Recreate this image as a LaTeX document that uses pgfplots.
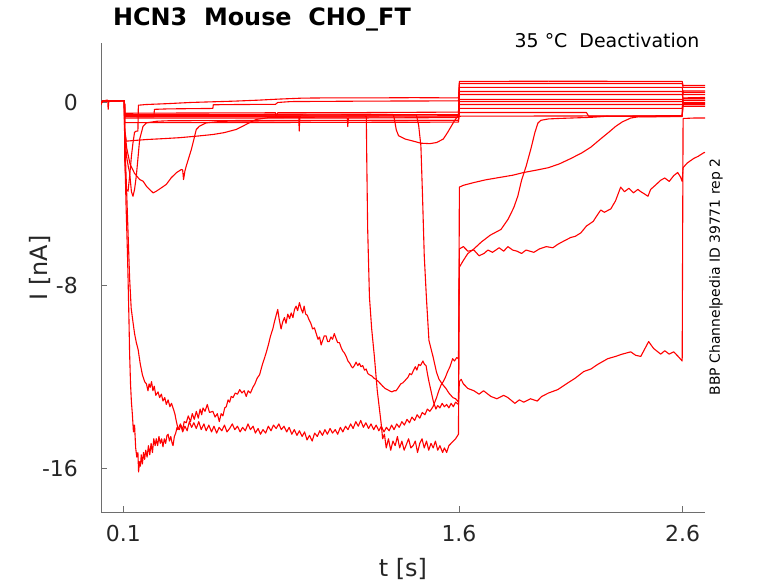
\documentclass[border=0pt]{standalone}
\usepackage{fontspec}
\setmainfont{DejaVu Sans}
\usepackage{pgfplots}
\pgfplotsset{compat=1.18}
\definecolor{axgray}{RGB}{38,38,38}
\definecolor{spine}{RGB}{110,110,110}
\pgfplotsset{tr/.style={color=red, solid, mark=none, line width=1.1bp, line join=round}}
\begin{document}
\begin{tikzpicture}
\path[use as bounding box] (0bp,0bp) rectangle (778bp,583bp);
\begin{axis}[
  at={(101bp,71bp)}, anchor=south west,
  scale only axis, width=604bp, height=469bp,
  xmin=0, xmax=2.7, ymin=-17.9, ymax=2.6,
  axis x line*=bottom, axis y line*=left,
  axis line style={spine, line width=0.8bp},
  xtick={0.1,1.6,2.6}, xticklabels={0.1,1.6,2.6},
  ytick={-16,-8,0}, yticklabels={-16,-8,0},
  tick align=inside, major tick length=6bp,
  tick style={spine, line width=0.8bp},
  ticklabel style={font=\fontsize{22}{26}\selectfont, text=axgray},
  xticklabel style={inner sep=0pt, anchor=north, yshift=-13bp},
  yticklabel style={inner sep=0pt, anchor=east, xshift=-23bp},
]
% S1: fast transient -> top line
\addplot[tr] coordinates {(0,-0.05) (0.006,0.06) (0.03,0.08) (0.06,0.07) (0.09,0.08) (0.1045,0.08)
 (0.106,-2.5) (0.113,-3.8) (0.121,-3.88) (0.128,-3.22) (0.136,-2.35) (0.143,-1.76) (0.15,-1.3) (0.158,-1.25) (0.165,-1.25) (0.167,-0.12)
 (0.2,-0.09) (0.3,-0.05) (0.4,0.0) (0.5,0.03) (0.6,0.06) (0.7,0.1) (0.8,0.15) (0.9,0.19) (1.0,0.2) (1.2,0.2) (1.4,0.21) (1.598,0.2)
 (1.602,0.92) (2.0,0.93) (2.598,0.92) (2.602,0.74) (2.7,0.74)};
% E2: transient -> lower bundle
\addplot[tr] coordinates {(0,-0.1) (0.006,0.05) (0.025,0.1) (0.03,0.1) (0.032,-0.3) (0.035,0.05) (0.06,0.06) (0.1045,0.07)
 (0.106,-1.5) (0.115,-2.4) (0.122,-2.8) (0.128,-3.07) (0.136,-3.9) (0.143,-4.1) (0.15,-3.8) (0.158,-3.2) (0.166,-2.35) (0.173,-1.6) (0.188,-1.04) (0.203,-0.89)
 (0.25,-0.82) (0.3,-0.8) (0.6,-0.79) (1.0,-0.78) (1.598,-0.78)
 (1.602,0.04) (2.598,0.04) (2.602,-0.04) (2.7,-0.04)};
% S2
\addplot[tr] coordinates {(0,-0.05) (0.006,0.06) (0.03,0.08) (0.06,0.07) (0.09,0.08) (0.1045,0.08)
 (0.106,-0.6) (0.15,-0.62) (0.2,-0.63) (0.236,-0.63) (0.239,-0.3) (0.3,-0.28) (0.4,-0.27) (0.5,-0.26) (0.502,-0.1) (0.6,-0.09) (0.78,-0.08) (0.79,0.0) (0.85,0.04) (1.2,0.06) (1.598,0.07)
 (1.602,0.83) (2.598,0.83) (2.602,0.66) (2.7,0.66)};
% S3
\addplot[tr] coordinates {(0,-0.05) (0.006,0.06) (0.03,0.08) (0.06,0.07) (0.09,0.08) (0.1045,0.08)
 (0.106,-0.47) (0.4,-0.46) (0.78,-0.45) (0.782,-0.62) (0.79,-0.45) (1.2,-0.44) (1.598,-0.42)
 (1.602,0.66) (2.598,0.66) (2.602,0.44) (2.7,0.44)};
% S4
\addplot[tr] coordinates {(0,-0.05) (0.006,0.06) (0.03,0.08) (0.06,0.07) (0.09,0.08) (0.1045,0.08)
 (0.106,-0.55) (0.5,-0.55) (1.0,-0.54) (1.598,-0.53)
 (1.602,0.48) (2.598,0.48) (2.602,0.35) (2.7,0.35)};
% S5
\addplot[tr] coordinates {(0,-0.05) (0.006,0.06) (0.03,0.08) (0.06,0.07) (0.09,0.08) (0.1045,0.08)
 (0.106,-0.6) (0.5,-0.6) (0.884,-0.6) (0.886,-1.25) (0.889,-0.6) (1.2,-0.59) (1.598,-0.58)
 (1.602,0.35) (2.598,0.35) (2.602,0.17) (2.7,0.17)};
% S6
\addplot[tr] coordinates {(0,-0.05) (0.006,0.06) (0.03,0.08) (0.06,0.07) (0.09,0.08) (0.1045,0.08)
 (0.106,-0.68) (0.5,-0.68) (1.101,-0.68) (1.103,-1.05) (1.106,-0.68) (1.598,-0.66)
 (1.602,0.13) (2.598,0.13) (2.602,0.09) (2.7,0.09)};
% S8
\addplot[tr] coordinates {(0,-0.05) (0.006,0.06) (0.03,0.08) (0.06,0.07) (0.09,0.08) (0.1045,0.08)
 (0.106,-0.88) (0.5,-0.88) (1.0,-0.87) (1.598,-0.86)
 (1.602,-0.26) (2.598,-0.26) (2.602,0.0) (2.7,0.0)};
% T3: dip trace
\addplot[tr] coordinates {(0,-0.05) (0.006,0.06) (0.03,0.08) (0.06,0.07) (0.09,0.08) (0.1045,0.08)
 (0.106,-0.52) (0.6,-0.52) (1.0,-0.51) (1.305,-0.52) (1.31,-0.65) (1.32,-1.2) (1.33,-1.45) (1.36,-1.6) (1.4,-1.7) (1.43,-1.78) (1.47,-1.8) (1.5,-1.75) (1.53,-1.6) (1.55,-1.3) (1.58,-0.8) (1.598,-0.55)
 (1.602,-0.09) (2.598,-0.09) (2.602,-0.17) (2.7,-0.17)};
% E3: broad transient
\addplot[tr] coordinates {(0,-0.05) (0.006,0.06) (0.03,0.08) (0.06,0.07) (0.09,0.08) (0.1045,0.08)
 (0.106,-1.2) (0.115,-2.0) (0.13,-2.7) (0.15,-3.1) (0.173,-3.37) (0.188,-3.44) (0.203,-3.66) (0.217,-3.8) (0.233,-3.95) (0.247,-3.88) (0.27,-3.73) (0.292,-3.58) (0.314,-3.29) (0.337,-3.07) (0.359,-2.93) (0.365,-2.95) (0.369,-3.37) (0.375,-3.0) (0.381,-2.78) (0.404,-2.05) (0.426,-1.18) (0.44,-1.04) (0.47,-0.89) (0.545,-0.82) (0.8,-0.8) (1.2,-0.79) (1.598,-0.78)
 (1.602,-0.44) (2.17,-0.44) (2.18,-0.6) (2.598,-0.62) (2.602,0.1) (2.7,0.1)};
% E4: slow
\addplot[tr] coordinates {(0,-0.05) (0.006,0.06) (0.03,0.08) (0.06,0.07) (0.09,0.08) (0.1045,0.08)
 (0.106,-1.2) (0.113,-1.69) (0.15,-1.66) (0.203,-1.62) (0.28,-1.58) (0.35,-1.54) (0.43,-1.47) (0.5,-1.4) (0.55,-1.32) (0.604,-1.18) (0.635,-1.03) (0.662,-0.89) (0.694,-0.74) (0.75,-0.66) (1.0,-0.64) (1.598,-0.63)
 (1.602,-0.6) (2.598,-0.58) (2.602,-0.1) (2.7,-0.1)};
% T1: late drop 1 -> C1
\addplot[tr] coordinates {(0,-0.05) (0.006,0.06) (0.03,0.08) (0.06,0.07) (0.09,0.08) (0.1045,0.08)
 (0.106,-0.58) (0.4,-0.57) (0.8,-0.59) (1.186,-0.6) (1.188,-2.5) (1.192,-5.5) (1.2,-8.5) (1.21,-9.9) (1.222,-11.1) (1.235,-12.6) (1.252,-14.0) (1.259,-14.7) (1.267,-14.5) (1.275,-15.1) (1.285,-14.7) (1.295,-15.2) (1.305,-14.8) (1.315,-15.0) (1.325,-14.6) (1.335,-15.1) (1.345,-14.8) (1.355,-15.2) (1.363,-15.0) (1.375,-14.7) (1.385,-15.1) (1.395,-15.0) (1.405,-14.8) (1.415,-15.3) (1.425,-14.9) (1.435,-14.7) (1.445,-15.1) (1.455,-14.8) (1.465,-15.2) (1.475,-14.9) (1.485,-15.1) (1.495,-14.8) (1.505,-15.2) (1.515,-15.0) (1.527,-15.3) (1.535,-15.1) (1.545,-15.3) (1.555,-15.0) (1.565,-14.9) (1.575,-14.8) (1.585,-14.7) (1.598,-14.5)
 (1.602,-3.7) (1.62,-3.62) (1.667,-3.5) (1.72,-3.38) (1.78,-3.28) (1.84,-3.18) (1.89,-3.06) (1.95,-2.95) (2.0,-2.85) (2.05,-2.68) (2.1,-2.45) (2.15,-2.2) (2.19,-1.95) (2.23,-1.62) (2.27,-1.3) (2.3,-1.05) (2.33,-0.85) (2.368,-0.68) (2.4,-0.63) (2.5,-0.62) (2.598,-0.6)
 (2.602,0.2) (2.7,0.22)};
% T2: late drop 2 -> C2
\addplot[tr] coordinates {(0,-0.05) (0.006,0.06) (0.03,0.08) (0.06,0.07) (0.09,0.08) (0.1045,0.08)
 (0.106,-0.55) (0.5,-0.56) (1.0,-0.55) (1.41,-0.55) (1.42,-1.0) (1.43,-1.9) (1.437,-4) (1.445,-6.7) (1.455,-8.6) (1.466,-10.4) (1.484,-11.1) (1.5,-11.8) (1.511,-12.1) (1.525,-12.3) (1.542,-12.5) (1.555,-12.7) (1.573,-12.9) (1.585,-12.95) (1.598,-13.1)
 (1.602,-7.2) (1.62,-6.9) (1.64,-6.6) (1.667,-6.4) (1.7,-6.1) (1.74,-5.8) (1.788,-5.55) (1.82,-5.1) (1.845,-4.6) (1.863,-4.1) (1.88,-3.4) (1.9,-2.8) (1.921,-2.05) (1.94,-1.3) (1.953,-0.9) (1.966,-0.78) (2.0,-0.72) (2.042,-0.7) (2.189,-0.65) (2.265,-0.6) (2.598,-0.58)
 (2.602,0.5) (2.7,0.5)};
% B1: deep, flat -> C3
\addplot[tr] coordinates {(0,-0.05) (0.006,0.06) (0.03,0.08) (0.06,0.07) (0.09,0.08) (0.1045,0.08)
 (0.106,-2) (0.112,-4.5) (0.118,-6.5) (0.121,-7.7) (0.125,-9.5) (0.128,-11) (0.132,-12.3) (0.136,-13.1) (0.14,-13.6) (0.145,-14.4) (0.15,-14.1) (0.155,-15.1) (0.16,-15.5) (0.165,-15.3) (0.168,-16.15) (0.172,-15.7) (0.176,-15.9) (0.18,-15.4) (0.185,-15.8) (0.19,-15.3) (0.195,-15.6)
 (0.2,-15.2) (0.206,-15.5) (0.212,-15.0) (0.218,-15.4) (0.224,-14.9) (0.23,-15.3) (0.236,-14.7) (0.242,-15.0) (0.247,-14.7) (0.253,-15.0) (0.259,-14.6) (0.265,-14.9) (0.271,-14.7) (0.277,-15.05) (0.283,-14.7) (0.289,-14.9) (0.295,-14.55) (0.3,-14.5) (0.306,-14.8) (0.312,-14.6) (0.318,-14.9) (0.322,-15.0) (0.328,-14.6) (0.334,-14.45) (0.34,-14.2) (0.344,-14.3)
 (0.355,-14.05) (0.365,-14.4) (0.375,-14.15) (0.385,-14.35) (0.395,-13.95) (0.405,-14.2) (0.415,-14.0) (0.426,-14.25) (0.437,-13.95) (0.448,-14.3) (0.46,-14.05) (0.47,-14.35) (0.482,-14.1) (0.494,-14.4) (0.505,-14.15) (0.517,-14.45) (0.528,-14.2) (0.54,-14.35) (0.552,-14.1) (0.563,-14.4) (0.575,-14.25) (0.587,-14.05) (0.598,-14.3) (0.61,-14.15) (0.622,-14.4) (0.633,-14.2) (0.645,-14.35) (0.657,-14.05) (0.668,-14.3) (0.68,-14.15) (0.69,-14.45) (0.702,-14.25) (0.713,-14.5) (0.724,-14.3) (0.736,-14.45) (0.748,-14.15) (0.76,-14.35) (0.771,-14.1) (0.783,-14.25) (0.795,-14.05) (0.806,-14.3) (0.818,-14.15) (0.83,-14.4) (0.841,-14.2) (0.853,-14.5) (0.864,-14.3) (0.876,-14.55) (0.887,-14.35) (0.899,-14.6) (0.91,-14.4) (0.921,-14.75) (0.932,-14.55) (0.944,-14.8) (0.955,-14.45) (0.967,-14.6) (0.978,-14.35) (0.99,-14.55) (1.001,-14.3) (1.012,-14.5) (1.024,-14.25) (1.035,-14.45) (1.047,-14.3) (1.058,-14.5) (1.07,-14.2) (1.081,-14.4) (1.093,-14.15) (1.104,-14.3) (1.116,-14.05) (1.127,-14.25) (1.139,-13.95) (1.15,-14.15) (1.161,-13.9) (1.173,-14.2) (1.184,-14.0) (1.196,-14.25) (1.207,-14.05) (1.219,-14.3) (1.23,-14.1) (1.242,-14.35) (1.253,-14.15) (1.265,-14.4) (1.276,-14.2) (1.288,-14.35) (1.299,-14.1) (1.31,-14.3) (1.322,-14.05) (1.333,-14.2) (1.345,-13.95) (1.356,-14.1) (1.368,-13.85) (1.379,-14.0) (1.39,-13.75) (1.402,-13.9) (1.413,-13.65) (1.425,-13.8) (1.436,-13.55) (1.448,-13.65) (1.459,-13.4) (1.47,-13.5) (1.484,-13.3) (1.5,-12.9) (1.51,-12.6) (1.52,-12.35) (1.53,-12.2) (1.54,-12.0) (1.55,-11.75) (1.56,-11.55) (1.572,-11.2) (1.58,-11.3) (1.59,-11.15) (1.598,-11.2)
 (1.602,-6.4) (1.62,-6.3) (1.64,-6.5) (1.667,-6.45) (1.69,-6.7) (1.712,-6.6) (1.73,-6.45) (1.75,-6.55) (1.78,-6.35) (1.8,-6.5) (1.819,-6.3) (1.84,-6.45) (1.86,-6.5) (1.88,-6.6) (1.9,-6.45) (1.935,-6.55) (1.96,-6.4) (1.99,-6.3) (2.02,-6.35) (2.042,-6.2) (2.07,-6.05) (2.1,-5.9) (2.12,-5.85) (2.145,-5.7) (2.17,-5.4) (2.2,-5.2) (2.22,-4.9) (2.234,-4.7) (2.25,-4.8) (2.279,-4.65) (2.3,-4.3) (2.323,-3.7) (2.34,-3.9) (2.36,-3.75) (2.38,-3.95) (2.4,-3.8) (2.413,-3.9) (2.43,-4.0) (2.445,-4.1) (2.457,-3.8) (2.48,-3.6) (2.502,-3.4) (2.52,-3.3) (2.54,-3.45) (2.56,-3.2) (2.578,-3.06) (2.59,-3.25) (2.598,-3.45)
 (2.602,-2.85) (2.62,-2.65) (2.649,-2.45) (2.67,-2.35) (2.694,-2.2) (2.7,-2.18)};
% B2: deep, hump -> C4
\addplot[tr] coordinates {(0,-0.05) (0.006,0.06) (0.03,0.08) (0.06,0.07) (0.09,0.08) (0.1045,0.08)
 (0.106,-1.5) (0.115,-4) (0.122,-6) (0.128,-7.7) (0.135,-9) (0.143,-9.6) (0.15,-10.1) (0.158,-10.5) (0.166,-10.8) (0.175,-11.4) (0.185,-11.9) (0.195,-12.2) (0.203,-12.3) (0.21,-12.6) (0.215,-12.3) (0.22,-12.45) (0.226,-12.2) (0.232,-12.6) (0.238,-12.4) (0.245,-12.8) (0.255,-12.65) (0.262,-12.9) (0.27,-12.75) (0.277,-13.05) (0.285,-12.9) (0.292,-13.2) (0.3,-13.0) (0.308,-13.3) (0.315,-13.15) (0.322,-13.35) (0.33,-13.6) (0.337,-13.95) (0.343,-14.2) (0.35,-14.3) (0.357,-14.1) (0.365,-14.3) (0.372,-13.95) (0.381,-14.0) (0.39,-13.7) (0.4,-13.95) (0.408,-13.6) (0.417,-13.85) (0.426,-13.5) (0.435,-13.8) (0.443,-13.4) (0.45,-13.65) (0.456,-13.35) (0.465,-13.5) (0.475,-13.2) (0.485,-13.55) (0.5,-13.5) (0.51,-13.75) (0.52,-13.6) (0.529,-13.95) (0.537,-13.6) (0.545,-13.7) (0.553,-13.35) (0.56,-13.3) (0.568,-13.0) (0.575,-13.1) (0.582,-12.85) (0.59,-12.9) (0.6,-12.7) (0.61,-12.75) (0.62,-12.55) (0.63,-12.7) (0.64,-12.6) (0.649,-12.85) (0.658,-12.6) (0.668,-12.7) (0.679,-12.45) (0.688,-12.3) (0.698,-12.05) (0.709,-11.9) (0.72,-11.5) (0.73,-11.2) (0.738,-10.95) (0.748,-10.6) (0.758,-10.2) (0.768,-9.9) (0.775,-9.6) (0.783,-9.3) (0.79,-9.05) (0.797,-9.5) (0.805,-9.9) (0.812,-9.6) (0.82,-9.4) (0.827,-9.65) (0.835,-9.25) (0.843,-9.45) (0.85,-9.2) (0.858,-9.4) (0.865,-9.05) (0.872,-8.9) (0.879,-9.1) (0.887,-8.75) (0.894,-9.0) (0.902,-9.2) (0.908,-8.9) (0.915,-9.25) (0.922,-9.3) (0.93,-9.5) (0.938,-9.65) (0.946,-9.9) (0.954,-9.85) (0.962,-10.1) (0.97,-10.35) (0.977,-10.25) (0.984,-10.6) (0.991,-10.4) (0.998,-10.2) (1.006,-10.2) (1.013,-10.45) (1.02,-10.45) (1.028,-10.25) (1.035,-10.35) (1.043,-10.1) (1.05,-10.3) (1.058,-10.5) (1.066,-10.5) (1.073,-10.7) (1.08,-10.85) (1.088,-10.95) (1.096,-11.1) (1.104,-11.3) (1.112,-11.4) (1.12,-11.55) (1.125,-11.6) (1.133,-11.5) (1.14,-11.35) (1.148,-11.5) (1.155,-11.4) (1.162,-11.55) (1.17,-11.5) (1.178,-11.7) (1.185,-11.65) (1.193,-11.85) (1.2,-11.9) (1.21,-11.95) (1.22,-12.05) (1.229,-12.1) (1.24,-12.2) (1.25,-12.3) (1.259,-12.4) (1.27,-12.5) (1.28,-12.55) (1.289,-12.6) (1.3,-12.65) (1.31,-12.6) (1.319,-12.6) (1.33,-12.45) (1.34,-12.3) (1.35,-12.25) (1.364,-12.1) (1.373,-12.0) (1.38,-11.85) (1.388,-11.9) (1.395,-11.75) (1.405,-11.55) (1.412,-11.7) (1.42,-11.45) (1.428,-11.5) (1.439,-11.3) (1.446,-11.45) (1.453,-11.5) (1.46,-11.9) (1.466,-12.2) (1.475,-12.6) (1.484,-13.0) (1.49,-13.2) (1.497,-13.4) (1.505,-13.25) (1.515,-13.35) (1.525,-13.15) (1.535,-13.3) (1.545,-13.2) (1.555,-13.35) (1.565,-13.15) (1.575,-13.3) (1.585,-13.1) (1.598,-13.2)
 (1.602,-12.2) (1.61,-12.1) (1.62,-12.3) (1.64,-12.5) (1.667,-12.6) (1.69,-12.75) (1.71,-12.6) (1.743,-12.85) (1.77,-12.95) (1.8,-12.8) (1.819,-12.9) (1.85,-13.15) (1.87,-13.0) (1.89,-13.1) (1.92,-12.95) (1.95,-13.05) (1.97,-12.85) (2.0,-12.7) (2.042,-12.55) (2.08,-12.3) (2.12,-12.05) (2.158,-11.76) (2.19,-11.65) (2.22,-11.45) (2.265,-11.2) (2.3,-11.1) (2.33,-11.0) (2.368,-10.9) (2.39,-11.05) (2.413,-11.1) (2.448,-10.45) (2.47,-10.75) (2.502,-11.0) (2.52,-10.85) (2.54,-11.0) (2.56,-10.9) (2.58,-11.1) (2.598,-11.3)
 (2.602,-0.7) (2.65,-0.68) (2.7,-0.68)};
\end{axis}
\node[anchor=base, font=\fontsize{24}{28}\selectfont\bfseries] at (262bp,557bp) {HCN3\ \ Mouse\ \ CHO\_FT};
\node[anchor=base east, font=\fontsize{19}{23}\selectfont] at (703bp,535bp) {35 °C\ \ Deactivation};
\node[anchor=base, font=\fontsize{24}{28}\selectfont, text=axgray] at (403bp,7bp) {t [s]};
\node[rotate=90, anchor=base, font=\fontsize{24}{28}\selectfont, text=axgray] at (47bp,315bp) {I [nA]};
\node[rotate=90, anchor=center, font=\fontsize{14}{17}\selectfont] at (716bp,306bp) {BBP Channelpedia ID 39771 rep 2};
\end{tikzpicture}
\end{document}
